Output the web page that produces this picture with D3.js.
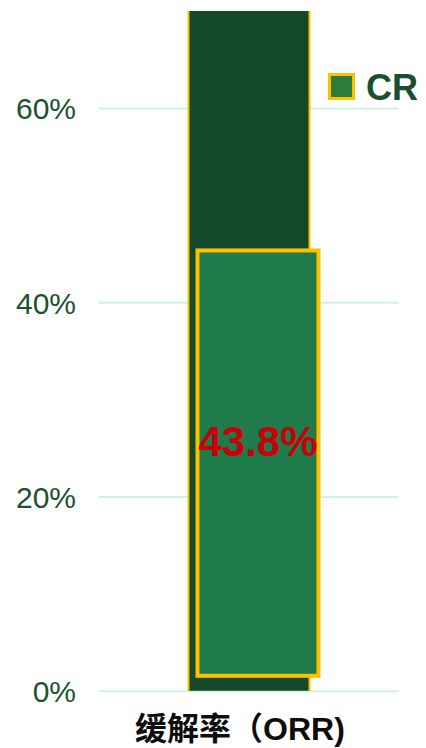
<!DOCTYPE html>
<html>
<head>
<meta charset="utf-8">
<script src="https://cdn.jsdelivr.net/npm/d3@7"></script>
<style>
  html, body { margin: 0; padding: 0; background: #ffffff; }
  svg { display: block; }
  text { font-family: "Liberation Sans", Arial, "Noto Sans CJK SC", sans-serif; }
</style>
</head>
<body>
<svg id="chart" width="426" height="748"></svg>
<script>
// Response data (percent)
const categories = ["缓解率（ORR)"];
const orrValues = [70];     // overall response rate (background bar)
const crValues = [43.8];    // complete response (foreground bar)
const seriesNames = ["CR"];
const tickValues = [0, 20, 40, 60];

const W = 426, H = 748;
const margin = { left: 99, right: 27, top: 11, bottom: 57 };
const svg = d3.select("#chart");

const x = d3.scaleBand()
  .domain(categories)
  .range([margin.left, W - margin.right]);

const y = d3.scaleLinear()
  .domain([0, 70])
  .range([H - margin.bottom - 0.2, margin.top]);

const barW = 121;
const frontShiftX = 9;   // foreground bar sits slightly right
const frontLift = 15;    // and slightly raised

// gridlines
svg.append("g")
  .attr("transform", `translate(${margin.left},0)`)
  .call(d3.axisLeft(y).tickValues(tickValues).tickSize(-(W - margin.left - margin.right)).tickFormat(""))
  .call(g => g.select(".domain").remove())
  .call(g => g.selectAll("line").attr("stroke", "#d2f2e2").attr("stroke-width", 2));

// y tick labels
svg.append("g")
  .attr("transform", `translate(${margin.left},0)`)
  .call(d3.axisLeft(y).tickValues(tickValues).tickSize(0).tickPadding(23).tickFormat(d => d + "%"))
  .call(g => g.select(".domain").remove())
  .call(g => g.selectAll("text")
    .attr("fill", "#1d5231")
    .style("font-size", "30px")
    .attr("dy", "0.36em"));

// background ORR bar
const back = svg.append("g");
back.selectAll("rect")
  .data(categories)
  .join("rect")
  .attr("x", (d) => x(d) + x.bandwidth() / 2 - barW / 2)
  .attr("y", (d, i) => y(orrValues[i]))
  .attr("width", barW)
  .attr("height", (d, i) => y(0) - y(orrValues[i]))
  .attr("fill", "#144a2a");
// side edges in gold
categories.forEach((d, i) => {
  const cx = x(d) + x.bandwidth() / 2;
  [cx - barW / 2, cx + barW / 2].forEach(ex => {
    back.append("line")
      .attr("x1", ex).attr("x2", ex)
      .attr("y1", y(orrValues[i])).attr("y2", y(0))
      .attr("stroke", "#f7c100").attr("stroke-width", 2);
  });
});

// foreground CR bar
svg.append("g").selectAll("rect")
  .data(categories)
  .join("rect")
  .attr("x", (d) => x(d) + x.bandwidth() / 2 - barW / 2 + frontShiftX)
  .attr("y", (d, i) => y(crValues[i]) - frontLift)
  .attr("width", barW)
  .attr("height", (d, i) => y(0) - y(crValues[i]))
  .attr("fill", "#1f7b4a")
  .attr("stroke", "#ffc000")
  .attr("stroke-width", 4);

// value label
svg.append("g").selectAll("text")
  .data(categories)
  .join("text")
  .attr("x", (d) => x(d) + x.bandwidth() / 2 + frontShiftX)
  .attr("y", (d, i) => (y(crValues[i]) + y(0)) / 2 - frontLift - 22)
  .attr("dy", "0.36em")
  .attr("text-anchor", "middle")
  .attr("fill", "#c8000a")
  .style("font-size", "42px")
  .style("font-weight", "bold")
  .text((d, i) => crValues[i] + "%");

// category label
svg.append("g").selectAll("text")
  .data(categories)
  .join("text")
  .attr("x", (d) => x(d) + x.bandwidth() / 2 - 9)
  .attr("y", 740)
  .attr("text-anchor", "middle")
  .attr("fill", "#0d0d0d")
  .style("font-size", "32px")
  .style("font-weight", "bold")
  .text(d => d);

// legend
const legend = svg.append("g").attr("transform", "translate(328,73)");
legend.selectAll("rect")
  .data(seriesNames)
  .join("rect")
  .attr("x", 1.5).attr("y", 1.5)
  .attr("width", 24).attr("height", 24)
  .attr("fill", "#2e7b3a")
  .attr("stroke", "#ffc000")
  .attr("stroke-width", 3);
legend.selectAll("text")
  .data(seriesNames)
  .join("text")
  .attr("x", 38).attr("y", 27)
  .attr("fill", "#1b4d2e")
  .style("font-size", "36px")
  .style("font-weight", "bold")
  .text(d => d);
</script>
</body>
</html>
